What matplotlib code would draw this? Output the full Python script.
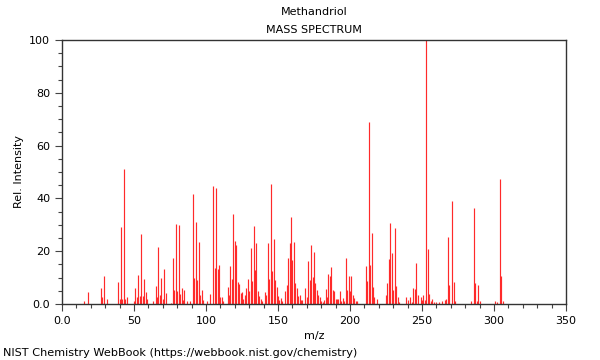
import matplotlib
matplotlib.use("Agg")
import matplotlib.pyplot as plt
from matplotlib.ticker import MultipleLocator, FuncFormatter

title_name = "Methandriol"
title_sub = "MASS SPECTRUM"
footer = "NIST Chemistry WebBook (https://webbook.nist.gov/chemistry)"

mz = [15, 18, 27, 28, 29, 31, 39, 40, 41, 42, 43, 44, 45,
      50, 51, 52, 53, 54, 55, 56, 57, 58, 59, 63, 65, 66, 67, 68, 69, 70, 71, 72,
      76, 77, 78, 79, 80, 81, 82, 83, 84, 85, 87, 89,
      91, 92, 93, 94, 95, 96, 97, 98, 101, 103, 105, 106, 107, 108, 109, 110, 111, 112,
      115, 116, 117, 118, 119, 120, 121, 122, 123, 124, 125, 126, 127, 128, 129, 130,
      131, 132, 133, 134, 135, 136, 137, 138, 139, 141, 142, 143, 144, 145, 146, 147,
      148, 149, 150, 151, 152, 153, 155, 156, 157, 158, 159, 160, 161, 162, 163, 164,
      165, 166, 167, 169, 170, 171, 172, 173, 174, 175, 176, 177, 178, 179, 180, 181,
      182, 183, 184, 185, 186, 187, 188, 189, 190, 191, 192, 193, 194, 195, 196, 197,
      198, 199, 200, 201, 202, 203, 204, 205, 211, 212, 213, 214, 215, 216, 217, 219,
      225, 226, 227, 228, 229, 230, 231, 232, 233, 234, 239, 240, 242, 243, 244, 245,
      246, 247, 249, 250, 251, 252, 253, 254, 255, 256, 257, 258, 260, 262, 264, 266,
      267, 268, 269, 271, 272, 273, 284, 286, 287, 288, 289, 290, 301, 302, 304, 305, 306]
intensity = [1, 4.5, 6, 2.5, 10.5, 2, 8.5, 2, 29.3, 2, 51, 2, 2.5,
             1, 6, 2.5, 11, 3, 26.5, 3, 9.5, 4.5, 2, 1.3, 6.8, 2.5, 21.7, 3.3, 9.8, 2, 13.4, 4,
             0.5, 17.4, 5.2, 30.2, 5, 30, 3.8, 6, 1.5, 5.3, 1, 1,
             41.7, 10, 31, 9, 23.5, 3.3, 5.3, 1.5, 1, 3.8, 44.7, 13.8, 43.8, 13.3, 14.8, 2.8, 2.5, 1,
             6.3, 3.4, 14.4, 9.5, 34.1, 23.9, 22.3, 8.5, 7.6, 4.3, 4.7, 1.8, 3.4, 6, 9.6, 5,
             21.3, 8.8, 29.5, 12.9, 23.2, 4.9, 3.2, 2, 1.1, 4.5, 3.4, 23, 9.5, 45.5, 12.6, 24.7,
             9, 6.3, 3, 1.5, 2.3, 1.3, 5, 7.2, 17.4, 23, 32.8, 16.7, 23.6, 7.8, 6, 3.2,
             3.4, 1.5, 1.5, 6, 2.8, 16.4, 9, 22.2, 10.2, 19.8, 7.8, 5.3, 3.4, 2.5, 1.3, 0.9,
             1.5, 5.8, 2.5, 11.2, 10.6, 14, 5.3, 4.9, 2, 2, 2, 4.9, 1.3, 2.1, 1, 17.4,
             5.3, 10.6, 4.9, 10.6, 3.4, 2.1, 1.3, 1, 14.4, 8.7, 69, 14.8, 26.8, 6.4, 2.8, 2,
             3.4, 7.8, 17, 30.5, 19.2, 5.3, 28.8, 6.8, 2.5, 0.9, 2.8, 1.5, 2.5, 0.9, 6, 5.6,
             15.4, 3.4, 2.5, 1.5, 3.4, 1.5, 100, 20.8, 3.8, 1.3, 1.8, 0.8, 0.8, 0.8, 1.3, 1.5,
             1.8, 25.3, 7.2, 39, 8.3, 1.3, 1, 36.5, 8, 1, 7.2, 1.3, 1.3, 0.7, 47.5, 10.6, 1.3]

x_major = [0, 50, 100, 150, 200, 250, 300, 350]
y_major = [0, 20, 40, 60, 80, 100]

fig = plt.figure(figsize=(6, 3.6), dpi=100)
ax = fig.add_axes([62/600, 1 - 304/360, 504/600, 264/360])
ax.vlines(mz, 0, intensity, colors="#ff2a2a", linewidth=0.85)
ax.set_xlim(0, 350)
ax.set_ylim(0, 100)
ax.set_xticks(x_major)
ax.set_yticks(y_major)
fmt = FuncFormatter(lambda v, p: "0.0" if v == 0 else f"{int(v)}")
ax.xaxis.set_major_formatter(fmt)
ax.yaxis.set_major_formatter(fmt)
ax.xaxis.set_minor_locator(MultipleLocator(10))
ax.yaxis.set_minor_locator(MultipleLocator(5))
ax.tick_params(which="major", length=5, width=0.8, labelsize=8, color="#444444")
ax.tick_params(which="minor", length=3, width=0.8, color="#444444")
for s in ax.spines.values():
    s.set_color("#333333")
    s.set_linewidth(1.0)
ax.set_xlabel("m/z", fontsize=8)
ax.set_ylabel("Rel. Intensity", fontsize=8)
cx = (62 + 566) / 2 / 600
fig.text(cx, 1 - 12/360, title_name, ha="center", va="center", fontsize=8)
fig.text(cx, 1 - 30/360, title_sub, ha="center", va="center", fontsize=8)
fig.text(3/600, 1 - 353/360, footer, ha="left", va="center", fontsize=8.1)
fig.savefig("out.png", dpi=100)
